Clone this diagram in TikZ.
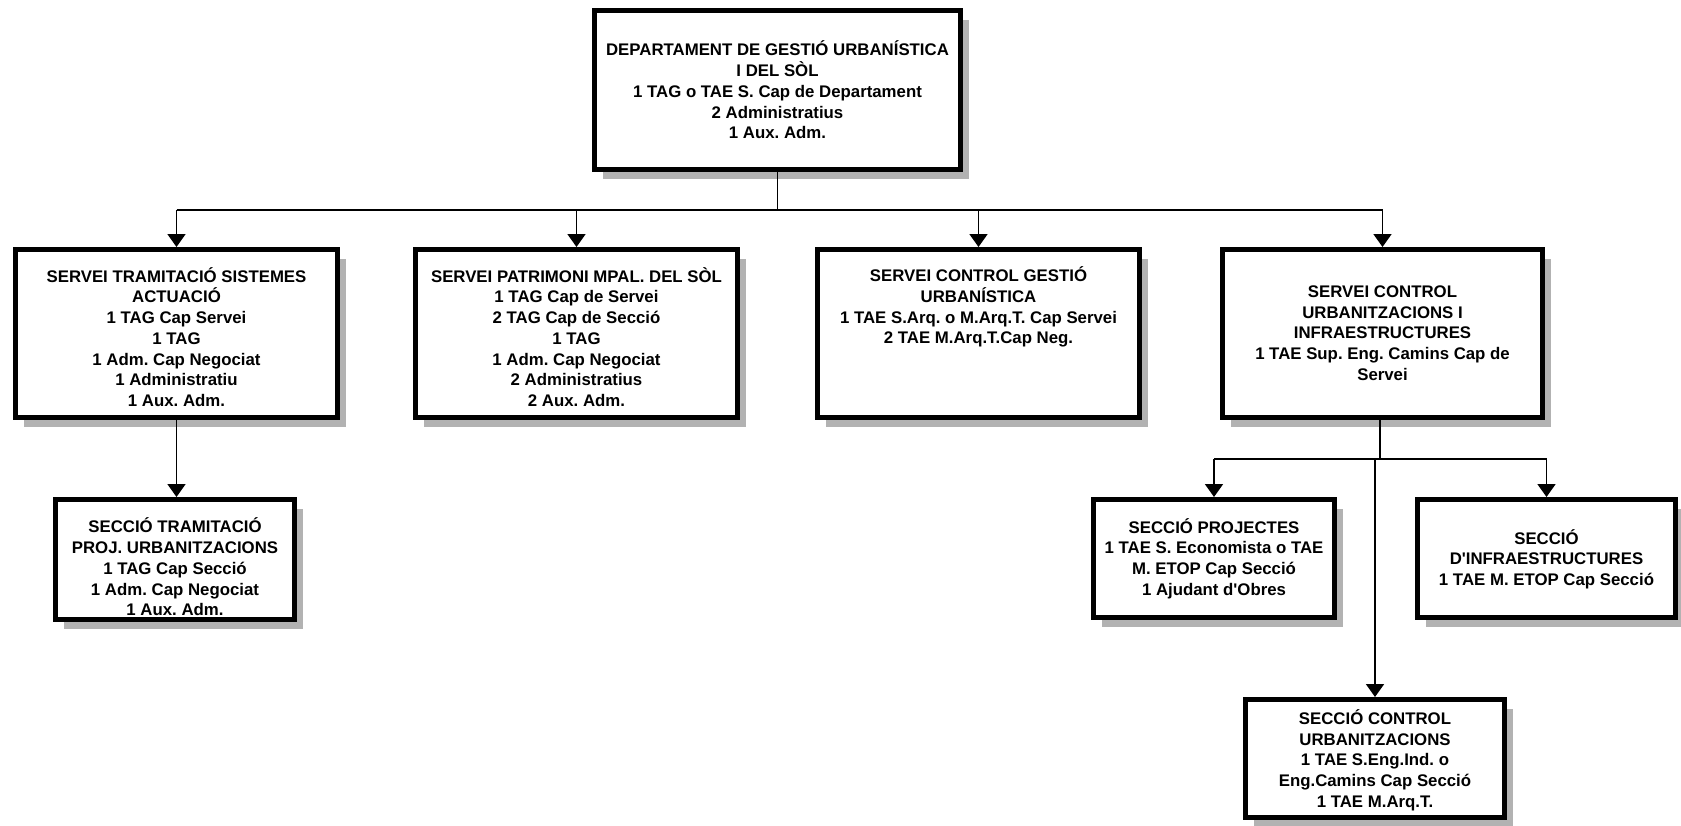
\documentclass[tikz,border=0pt]{standalone}
\usepackage{fontspec}
\setmainfont{Liberation Sans}
\usetikzlibrary{arrows.meta,shadows}
\frenchspacing
\begin{document}
\begin{tikzpicture}[x=1pt,y=-1pt,
  box/.style={draw=black,line width=5pt,fill=white,rectangle,inner sep=0pt,
    drop shadow={shadow xshift=8pt,shadow yshift=-9pt,fill=black!30,opacity=1}},
  txt/.style={align=center,inner sep=0pt,font=\bfseries\fontsize{16.8}{20.7}\selectfont},
  conn/.style={draw=black,line width=1.8pt},
  arr/.style={conn,-{Triangle[width=18pt,length=13pt]}}]
\useasboundingbox (0,0) rectangle (1681,825);

% boxes (outer size minus border width)
\node[box,minimum width=366pt,minimum height=159pt] (top) at (777.5,90) {};
\node[box,minimum width=322pt,minimum height=168pt] (b1) at (176.5,333.5) {};
\node[box,minimum width=322pt,minimum height=168pt] (b2) at (576.5,333.5) {};
\node[box,minimum width=322pt,minimum height=168pt] (b3) at (978.5,333.5) {};
\node[box,minimum width=320pt,minimum height=168pt] (b4) at (1382.5,333.5) {};
\node[box,minimum width=239pt,minimum height=120pt] (st) at (175,559.5) {};
\node[box,minimum width=241pt,minimum height=118pt] (sp) at (1214,558.5) {};
\node[box,minimum width=258pt,minimum height=118pt] (si) at (1546.5,558.5) {};
\node[box,minimum width=259pt,minimum height=118pt] (scu) at (1375,758.5) {};

% texts
\node[txt] (topt) at (777.5,90) {DEPARTAMENT DE GESTIÓ URBANÍSTICA\\I DEL SÒL\\1 TAG o TAE S. Cap de Departament\\2 Administratius\\1 Aux. Adm.};
\node[txt] (b1t) at (176.5,337) {SERVEI TRAMITACIÓ SISTEMES\\ACTUACIÓ\\1 TAG Cap Servei\\1 TAG\\1 Adm. Cap Negociat\\1 Administratiu\\1 Aux. Adm.};
\node[txt] (b2t) at (576.5,337) {SERVEI PATRIMONI MPAL. DEL SÒL\\1 TAG Cap de Servei\\2 TAG Cap de Secció\\1 TAG\\1 Adm. Cap Negociat\\2 Administratius\\2 Aux. Adm.};
\node[txt] (b3t) at (978.5,307) {SERVEI CONTROL GESTIÓ\\URBANÍSTICA\\1 TAE S.Arq. o M.Arq.T. Cap Servei\\2 TAE M.Arq.T.Cap Neg.};
\node[txt] (b4t) at (1382.5,333) {SERVEI CONTROL\\URBANITZACIONS I\\INFRAESTRUCTURES\\1 TAE Sup. Eng. Camins Cap de\\Servei};
\node[txt] (stt) at (175,567) {SECCIÓ TRAMITACIÓ\\PROJ. URBANITZACIONS\\1 TAG Cap Secció\\1 Adm. Cap Negociat\\1 Aux. Adm.};
\node[txt] (spt) at (1214,558.5) {SECCIÓ PROJECTES\\1 TAE S. Economista o TAE\\M. ETOP Cap Secció\\1 Ajudant d\textquotesingle Obres};
\node[txt] (sit) at (1546.5,559) {SECCIÓ\\D\textquotesingle INFRAESTRUCTURES\\1 TAE M. ETOP Cap Secció};
\node[txt] (scut) at (1375,760) {SECCIÓ CONTROL\\URBANITZACIONS\\1 TAE S.Eng.Ind. o\\Eng.Camins Cap Secció\\1 TAE M.Arq.T.};

% connectors
\coordinate (bus) at (778,210);
\coordinate (bus2) at (1380,459);
\draw[conn] (top.south) -- (top.south |- bus);
\draw[conn] (b1.north |- bus) -- (b4.north |- bus);
\foreach \n in {b1,b2,b3,b4} \draw[arr] (\n.north |- bus) -- (\n.north);
\draw[arr] (b1.south) -- (b1.south |- st.north);
\draw[conn] (b4.south -| bus2) -- (bus2);
\draw[conn] (sp.north |- bus2) -- (si.north |- bus2);
\draw[arr] (sp.north |- bus2) -- (sp.north);
\draw[arr] (si.north |- bus2) -- (si.north);
\draw[arr] (scu.north |- bus2) -- (scu.north);
\end{tikzpicture}
\end{document}
